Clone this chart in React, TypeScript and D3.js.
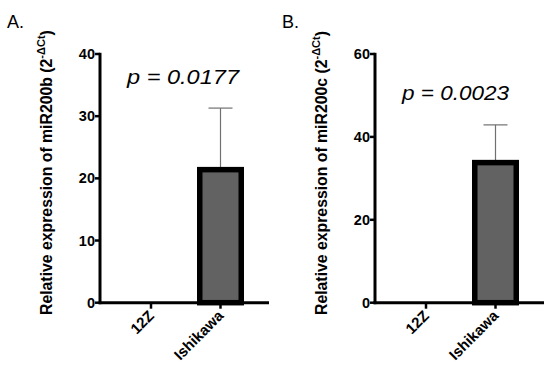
import React from "react";
import * as d3 from "d3";

const categories = ["12Z", "Ishikawa"];
const valuesA = [0, 21.4];
const errorsA = [0, 9.9];
const valuesB = [0, 33.8];
const errorsB = [0, 9.1];
const ticksA = [0, 10, 20, 30, 40];
const ticksB = [0, 20, 40, 60];

const FONT = "'Liberation Sans', Arial, sans-serif";

type PanelProps = {
  ox: number;
  letter: string;
  values: number[];
  errors: number[];
  ticks: number[];
  yMax: number;
  pText: string;
  pY: number;
  pLen: number;
  label: string;
};

function Panel({ ox, letter, values, errors, ticks, yMax, pText, pY, pLen, label }: PanelProps) {
  const axisX = 100;
  const axisRight = 269;
  const y0 = 302.7;
  const yTop = 54;
  const y = d3.scaleLinear().domain([0, yMax]).range([y0, yTop]);
  const x = d3.scalePoint<string>().domain(categories).range([151, 220.5]);
  const bw = 41.5;
  const cx = (c: string) => x(c) as number;
  return (
    <g transform={`translate(${ox},0)`}>
      <text x={7} y={28} fontFamily={FONT} fontSize={18}>{letter}</text>
      {/* y label */}
      <text transform={`translate(52,315) rotate(-90)`} fontFamily={FONT} fontWeight="bold" fontSize={15.8}>
        {label} (2
        <tspan fontSize={11} dy={-7}>-ΔCt</tspan>
        <tspan dy={7}>)</tspan>
      </text>
      {/* bars */}
      {categories.map((c, i) => (
        values[i] > 0 ? (
          <g key={c}>
            <line x1={cx(c)} x2={cx(c)} y1={y(values[i])} y2={y(values[i] + errors[i])} stroke="#707070" strokeWidth={1.2} />
            <line x1={cx(c) - 12} x2={cx(c) + 12} y1={y(values[i] + errors[i])} y2={y(values[i] + errors[i])} stroke="#707070" strokeWidth={1.2} />
            <rect x={cx(c) - bw / 2} y={y(values[i])} width={bw} height={y(0) - y(values[i])} fill="#626262" stroke="#000" strokeWidth={5.5} />
          </g>
        ) : null
      ))}
      {/* y axis */}
      <line x1={axisX} x2={axisX} y1={yTop - 1.2} y2={y0 + 1.5} stroke="#000" strokeWidth={3} />
      {ticks.map((t) => (
        <g key={t}>
          <line x1={axisX - 5} x2={axisX} y1={y(t)} y2={y(t)} stroke="#000" strokeWidth={2.5} />
          <text x={axisX - 5} y={y(t) + 5} textAnchor="end" fontFamily={FONT} fontWeight="bold" fontSize={14.5}>{t}</text>
        </g>
      ))}
      {/* x axis */}
      <line x1={axisX - 1.5} x2={axisRight} y1={y0} y2={y0} stroke="#000" strokeWidth={3} />
      {categories.map((c) => (
        <g key={c}>
          <line x1={cx(c)} x2={cx(c)} y1={y0} y2={y0 + 6} stroke="#000" strokeWidth={2.5} />
          <text transform={`translate(${cx(c) + 4},${y0 + 14}) rotate(-45)`} textAnchor="end" fontFamily={FONT} fontWeight="bold" fontSize={15}>{c}</text>
        </g>
      ))}
      {/* p value */}
      <text x={axisX + 27} y={pY} fontFamily={FONT} fontStyle="italic" fontSize={20} textLength={pLen} lengthAdjust="spacingAndGlyphs">{pText}</text>
    </g>
  );
}

export default function App() {
  return (
    <svg width={550} height={375} style={{ position: "absolute", left: 0, top: 0, background: "#fff" }}>
      <rect width={550} height={375} fill="#fff" />
      <Panel ox={0} letter="A." values={valuesA} errors={errorsA} ticks={ticksA} yMax={40} pText="p = 0.0177" pY={83.5} pLen={112} label="Relative expression of miR200b" />
      <Panel ox={275} letter="B." values={valuesB} errors={errorsB} ticks={ticksB} yMax={60} pText="p = 0.0023" pY={99.5} pLen={107} label="Relative expression of miR200c" />
    </svg>
  );
}
